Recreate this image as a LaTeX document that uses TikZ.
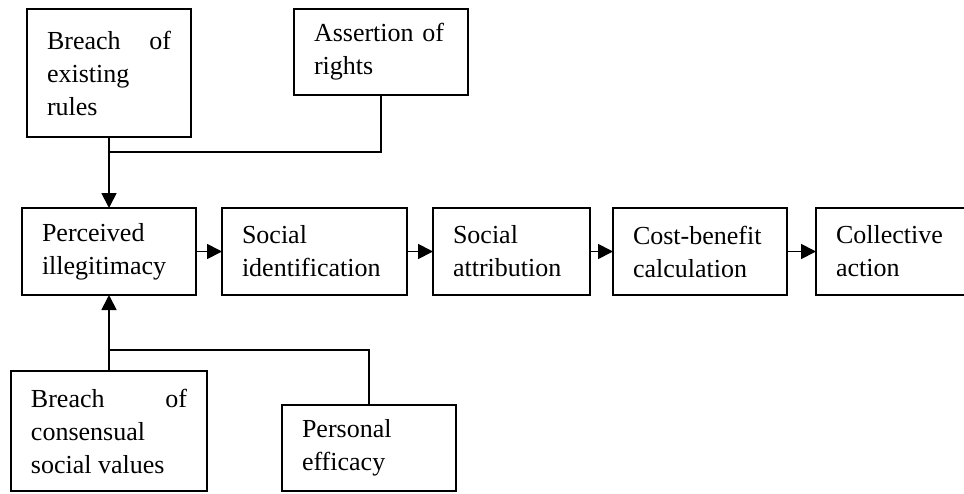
\documentclass[tikz,border=0pt]{standalone}
\usepackage{fontspec}
\setmainfont{Liberation Serif}
\usepackage{tikz}
\usetikzlibrary{arrows.meta}
\hyphenpenalty=10000
\exhyphenpenalty=10000

\begin{document}
\begin{tikzpicture}[x=0.5pt, y=-0.5pt,
  every node/.style={font=\fontsize{13}{16.5}\selectfont},
  stage/.style={draw, line width=0.9pt, anchor=north west, align=left, inner xsep=10pt, inner ysep=0pt, outer sep=0pt},
  spread/.style={stage, align=justify},
  link/.style={line width=0.9pt},
  flow/.style={link, -{Triangle[length=7.5pt,width=7.5pt]}}]
  \useasboundingbox (0,0) rectangle (964,493);
  % sources above
  \node[spread, text width=62pt, minimum height=64pt] (brules) at (27,9) {Breach of existing rules};
  \node[stage, text width=67pt, minimum height=43pt] (assert) at (294,9) {Assertion of rights};
  % main chain
  \node[stage, text width=67pt, minimum height=43.5pt] (percv) at (22,208) {Perceived illegitimacy};
  \node[stage, text width=72.5pt, minimum height=43.5pt] (socid) at (222,208) {Social identification};
  \node[stage, text width=58.5pt, minimum height=43.5pt] (socatt) at (433,208) {Social attribution};
  \node[stage, text width=67pt, minimum height=43.5pt] (costben) at (613,208) {Cost-benefit calculation};
  \node[stage, text width=67.5pt, minimum height=43.5pt] (collact) at (816,208) {Collective action};
  % sources below
  \node[spread, text width=78pt, minimum height=60pt] (bconsv) at (11,371) {Breach of consensual social values};
  \node[stage, text width=67pt, minimum height=43pt] (persef) at (282,405) {Personal efficacy};
  \coordinate (jtop) at (109,152);
  \coordinate (jbot) at (109,350);
  \draw[link] (assert.south) |- (jtop);
  \draw[flow] (brules.south) -- (percv.north);
  \draw[link] (persef.north) |- (jbot);
  \draw[flow] (bconsv.north) -- (percv.south);
  \foreach \a/\b in {percv/socid, socid/socatt, socatt/costben, costben/collact}
    \draw[flow] (\a.east) -- (\b.west);
\end{tikzpicture}
\end{document}
